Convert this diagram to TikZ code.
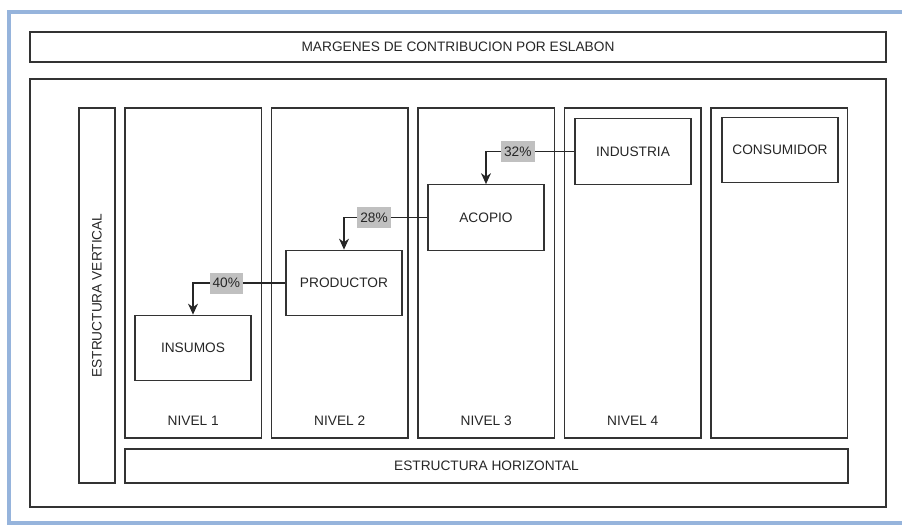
\documentclass[tikz,border=0pt]{standalone}
\usepackage{fontspec}
\setmainfont{Liberation Sans}
\usetikzlibrary{arrows.meta, positioning}
\definecolor{frameblue}{RGB}{150,180,220}
\definecolor{tagfill}{RGB}{192,192,192}

\begin{document}
\begin{tikzpicture}[
    x=0.5pt, y=-0.5pt,
    node distance=5pt,
    every node/.style={font=\fontsize{6.85}{8}\selectfont, text=black!85},
    panel/.style={rectangle, draw=black!80, line width=0.65pt, inner sep=0pt},
    colbox/.style={panel, outer sep=0pt, minimum width=68.25pt, minimum height=165pt},
    unit/.style={panel, minimum width=58pt, minimum height=32.75pt},
    tag/.style={fill=tagfill, inner xsep=1.5pt, inner ysep=0pt, minimum height=10.5pt},
    arrow/.style={-{Stealth[length=5.5pt, width=5pt]}, line width=0.6pt, draw=black!85}
]
\useasboundingbox (0,0) rectangle (902,527);
\draw[frameblue, line width=2.2pt] (902,12) -- (9,12) -- (9,523) -- (902,523);

\node[panel, minimum width=428pt, minimum height=15pt] (title) at (458,47) {MARGENES DE CONTRIBUCION POR ESLABON};
\node[panel, minimum width=428pt, minimum height=214pt] (outer) at (458,293) {};
\node[panel, minimum width=187.5pt, minimum height=18pt, rotate=90] (vert) at (97,295.5) {ESTRUCTURA VERTICAL};

% niveles
\node[colbox] (col1) at (193.25,273) {};
\node[colbox, right=of col1] (col2) {};
\node[colbox, right=of col2] (col3) {};
\node[colbox, right=of col3] (col4) {};
\node[colbox, right=of col4] (col5) {};
\node (lvl1) at ([yshift=8.5pt]col1.south) {NIVEL 1};
\node (lvl2) at ([yshift=8.5pt]col2.south) {NIVEL 2};
\node (lvl3) at ([yshift=8.5pt]col3.south) {NIVEL 3};
\node (lvl4) at ([yshift=8.5pt]col4.south) {NIVEL 4};
\node[panel, minimum width=361.5pt, minimum height=17pt] (horiz) at (486.5,466) {ESTRUCTURA HORIZONTAL};

% eslabones
\node[unit] (insumos) at (193,348) {INSUMOS};
\node[unit] (productor) at (344,283) {PRODUCTOR};
\node[unit] (acopio) at (486,217.5) {ACOPIO};
\node[unit] (industria) at (633,151.5) {INDUSTRIA};
\node[unit] (consumidor) at (780,150) {CONSUMIDOR};

\draw[arrow] (industria) -| node[tag, pos=0.32] {32\%} (acopio);
\draw[arrow] (acopio) -| node[tag, pos=0.32] {28\%} (productor);
\draw[arrow] (productor) -| node[tag, pos=0.32] {40\%} (insumos);
\end{tikzpicture}
\end{document}
